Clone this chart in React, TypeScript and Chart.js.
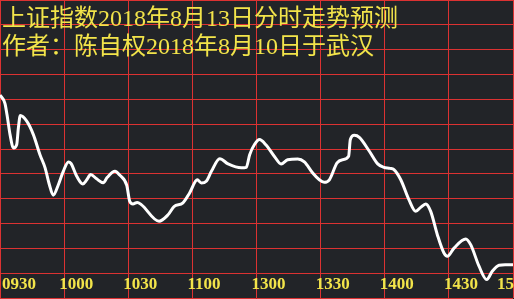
import React, { useEffect, useRef } from "react";
import { Chart, registerables } from "chart.js";

Chart.register(...registerables);

// ---- data ----
const TITLE_LINES = [
  "上证指数2018年8月13日分时走势预测",
  "作者：陈自权2018年8月10日于武汉",
];
const TIME_TICKS = [0, 30, 60, 90, 120, 150, 180, 210, 240];
const TIME_LABELS = ["0930", "1000", "1030", "1100", "1300", "1330", "1400", "1430", "1500"];

// minutes since 09:30 (trading minutes, lunch break removed)
const MINUTES = [
  0, 2.3, 3.3, 4.7, 6.3, 7.8, 8.6, 9.5, 12.5, 15.6,
  18.7, 21.1, 23.1, 24.9, 27.3, 29.6, 32.0, 33.2, 35.9, 38.7,
  40.6, 42.4, 45.2, 48.3, 50.2, 53.8, 56.1, 59.3, 60.7, 62.2,
  64.2, 66.1, 74.4, 78.6, 81.4, 85.6, 88.7, 92.3, 94.2, 96.5,
  98.9, 102.8, 106.7, 112.9, 115.2, 116.8, 119.2, 121.4, 124.4, 128.3,
  131.5, 134.6, 139.3, 142.4, 146.3, 149.4, 151.7, 154.1, 157.7, 160.3,
  163.1, 163.9, 165.8, 168.1, 172.8, 176.7, 179.6, 182.5, 184.3, 187.5,
  191.3, 194.5, 196.8, 199.2, 201.5, 204.6, 207.7, 209.3, 212.4, 217.9,
  220.2, 224.1, 227.7, 230.3, 233.5, 236.3, 240,
];
// predicted level (grid units x10, 0 = bottom line, 120 = top line)
const LEVELS = [
  81.7, 78.4, 73.7, 65.8, 60.4, 61.7, 68.5, 73.5, 71.2, 65.8,
  57.7, 52.4, 45.6, 41.4, 45.6, 51.0, 54.8, 54.2, 49.0, 45.9,
  47.6, 49.7, 48.0, 46.4, 48.6, 51.0, 49.4, 45.4, 38.9, 37.9,
  38.5, 37.6, 30.9, 33.5, 36.8, 38.3, 42.3, 47.6, 46.3, 47.0,
  51.0, 56.1, 54.0, 52.4, 52.6, 57.7, 62.0, 63.8, 61.7, 57.1,
  54.0, 55.7, 56.0, 54.8, 50.3, 47.6, 46.6, 47.6, 54.4, 55.7,
  57.1, 63.8, 65.5, 64.7, 59.1, 54.0, 52.6, 52.2, 51.7, 47.6,
  39.6, 34.9, 36.5, 37.9, 34.9, 25.5, 18.1, 16.8, 20.1, 23.8,
  21.5, 12.8, 7.4, 10.8, 13.2, 13.4, 13.4,
];

const BG = "#222428";
const GRID = "#dc3232";
const TEXT = "#f2e44a";
const LINE = "#ffffff";

const overlayPlugin = {
  id: "overlay",
  beforeDraw(chart: any) {
    const ctx = chart.ctx;
    ctx.save();
    ctx.fillStyle = BG;
    ctx.fillRect(0, 0, chart.width, chart.height);
    ctx.restore();
  },
  beforeDatasetsDraw(chart: any) {
    const ctx = chart.ctx;
    const area = chart.chartArea;
    const xs = chart.scales.x;
    ctx.save();
    ctx.fillStyle = TEXT;
    ctx.textAlign = "left";
    ctx.textBaseline = "alphabetic";
    // title lines
    ctx.font = "24px 'Liberation Serif', 'Noto Sans CJK SC'";
    ctx.fillText(TITLE_LINES[0], 2, 26);
    ctx.fillText(TITLE_LINES[1], 2, 54);
    // time labels
    ctx.font = "bold 17px 'Liberation Serif'";
    TIME_TICKS.forEach((t, i) => {
      let px = xs.getPixelForValue(t) - 5;
      if (px < 2) px = 2;
      if (px > area.right - 16) px = area.right - 16;
      ctx.fillText(TIME_LABELS[i], px, 289);
    });
    ctx.restore();
  },
};

export default function App() {
  const ref = useRef<HTMLCanvasElement | null>(null);

  useEffect(() => {
    document.body.style.margin = "0";
    document.body.style.background = BG;
    const canvas = ref.current;
    if (!canvas) return;
    const points = MINUTES.map((m, i) => ({ x: m, y: LEVELS[i] }));
    const chart = new Chart(canvas, {
      type: "line",
      data: {
        datasets: [
          {
            data: points,
            borderColor: LINE,
            borderWidth: 3,
            pointRadius: 0,
            cubicInterpolationMode: "monotone",
            fill: false,
          },
        ],
      },
      options: {
        animation: false,
        responsive: false,
        devicePixelRatio: 1,
        layout: { padding: { left: 0, top: 0, right: 1, bottom: 1 } },
        plugins: {
          legend: { display: false },
          tooltip: { enabled: false },
          title: { display: false },
        },
        scales: {
          x: {
            type: "linear",
            min: 0,
            max: 240,
            ticks: { display: false, stepSize: 30 },
            afterBuildTicks: (scale: any) => {
              scale.ticks = TIME_TICKS.map((v) => ({ value: v }));
            },
            grid: { color: GRID, lineWidth: 1, drawTicks: false },
            border: { display: false },
          },
          y: {
            min: 0,
            max: 120,
            ticks: { display: false, stepSize: 10 },
            grid: { color: GRID, lineWidth: 1, drawTicks: false },
            border: { display: false },
          },
        },
      },
      plugins: [overlayPlugin],
    } as any);
    return () => chart.destroy();
  }, []);

  return (
    <div style={{ width: 514, height: 299, background: BG }}>
      <canvas ref={ref} width={514} height={299} style={{ display: "block" }} />
    </div>
  );
}
